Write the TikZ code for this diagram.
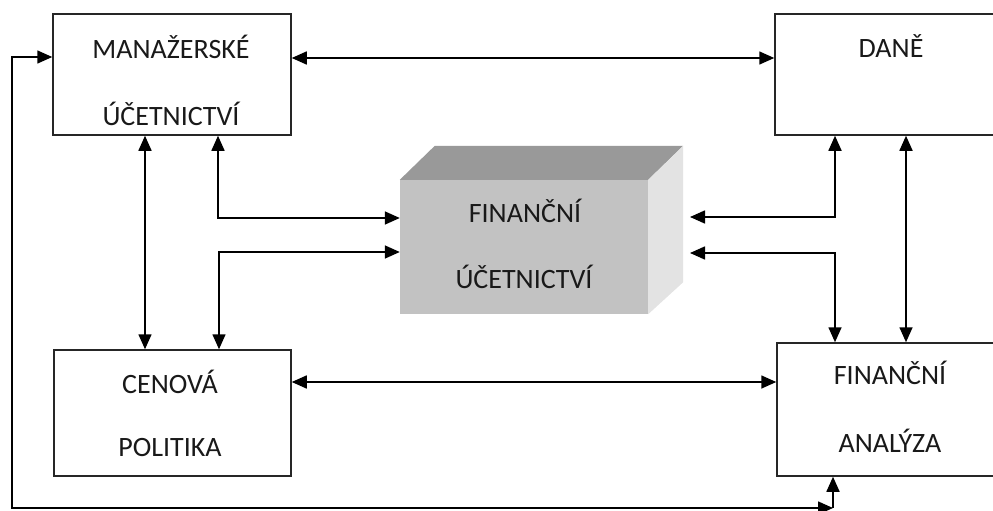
\documentclass[tikz,border=0pt]{standalone}
\usepackage{fontspec}
\setmainfont{Carlito}
\usetikzlibrary{arrows.meta,calc}
\begin{document}
\begin{tikzpicture}[x=1pt,y=-1pt,
  box/.style={draw=black!85,line width=1.5pt,fill=white,inner sep=0pt},
  lbl/.style={font=\fontsize{28}{32}\selectfont,text=black!90,inner sep=0pt},
  conn/.style={line width=1.6pt,black,arrows={-Triangle[length=15pt,width=13pt]}},
  dconn/.style={line width=1.6pt,black,arrows={Triangle[length=15pt,width=13pt]-Triangle[length=15pt,width=13pt]}}]
\useasboundingbox (0,0) rectangle (993,511);
% boxes
\node[box,minimum width=238pt,minimum height=121pt] (man) at (172,74.5) {};
\node[box,minimum width=233pt,minimum height=121pt] (dane) at (891.5,74.5) {};
\node[box,minimum width=237pt,minimum height=126pt] (cen) at (172.5,413) {};
\node[box,minimum width=231pt,minimum height=133pt] (fa) at (892.5,409.5) {};
% 3D central box
\node[fill=black!24,draw=none,minimum width=248pt,minimum height=134pt,inner sep=0pt] (fin) at (524,247) {};
\fill[black!40] (fin.north west) -- ++(35,-34) -- ($(fin.north east)+(35,-34)$) -- (fin.north east) -- cycle;
\fill[black!11] (fin.north east) -- ++(35,-34) -- ($(fin.south east)+(35,-32)$) -- (fin.south east) -- cycle;
% labels
\node[lbl] (t1) at (171,47) {MANAŽERSKÉ};
\node[lbl] (t2) at (171,114) {ÚČETNICTVÍ};
\node[lbl] (t3) at (891,46) {DANĚ};
\node[lbl] (t4) at (525,211) {FINANČNÍ};
\node[lbl] (t5) at (524,277) {ÚČETNICTVÍ};
\node[lbl] (t6) at (170,382) {CENOVÁ};
\node[lbl] (t7) at (170,448) {POLITIKA};
\node[lbl] (t8) at (890,373) {FINANČNÍ};
\node[lbl] (t9) at (890,441) {ANALÝZA};
% free coordinates
\coordinate (fr1) at (690,217);
\coordinate (fr2) at (690,253);
\coordinate (corner) at (833,508);
% connectors
\draw[dconn] (man.east |- 0,58) -- (dane.west |- 0,58);
\draw[dconn] (man.south -| 145,0) -- (cen.north -| 145,0);
\draw[dconn] (man.south -| 218,0) |- (fin.west |- 0,218);
\draw[dconn] (cen.north -| 219,0) |- (fin.west |- 0,252);
\draw[dconn] (dane.south -| 835,0) |- (fr1);
\draw[dconn] (fr2) -| (fa.north -| 835,0);
\draw[dconn] (dane.south -| 906,0) -- (fa.north -| 906,0);
\draw[dconn] (cen.east |- 0,382) -- (fa.west |- 0,382);
\draw[dconn] (man.west |- 0,57) -| (12,508) -- (corner);
\draw[conn] (corner) -- (fa.south -| corner);
\end{tikzpicture}
\end{document}
